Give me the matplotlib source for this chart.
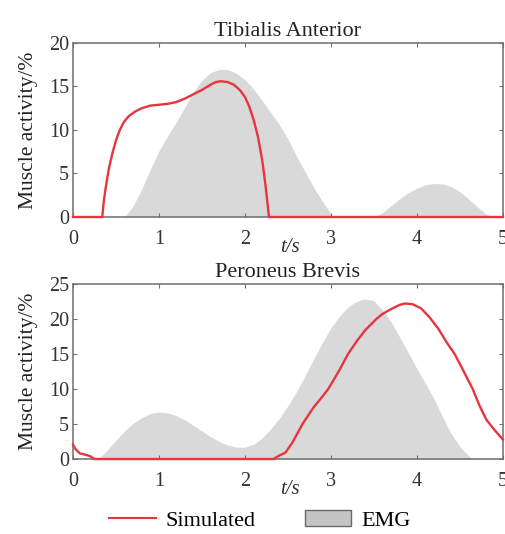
import matplotlib
matplotlib.use("Agg")
import matplotlib.pyplot as plt
from matplotlib.lines import Line2D
from matplotlib.patches import Patch

plt.rcParams["font.family"] = ["Liberation Serif", "DejaVu Serif"]

# Tibialis Anterior
ta_emg_t = [0, 0.6, 0.7, 0.8, 0.9, 1.0, 1.1, 1.2, 1.3, 1.4, 1.5, 1.6, 1.7, 1.8, 1.9,
            2.0, 2.1, 2.2, 2.3, 2.4, 2.5, 2.6, 2.7, 2.8, 2.9, 3.0, 3.03,
            3.5, 3.6, 3.7, 3.8, 3.9, 4.0, 4.1, 4.2, 4.3, 4.4, 4.5, 4.6, 4.7, 4.8, 4.88, 5.0]
ta_emg = [0, 0, 1.3, 3.2, 5.5, 7.6, 9.3, 10.9, 12.6, 14.4, 15.7, 16.6, 16.95, 16.95, 16.5,
          15.8, 14.7, 13.4, 12.0, 10.6, 9.0, 7.0, 5.2, 3.4, 1.8, 0.4, 0,
          0, 0.5, 1.3, 2.1, 2.8, 3.3, 3.7, 3.85, 3.8, 3.5, 2.9, 2.1, 1.2, 0.4, 0, 0]
ta_sim_t = [0, 0.34, 0.36, 0.39, 0.42, 0.46, 0.5, 0.54, 0.59, 0.65, 0.72, 0.8, 0.9, 1.0,
            1.1, 1.2, 1.3, 1.4, 1.5, 1.6, 1.66, 1.72, 1.8, 1.87, 1.94, 2.0, 2.05, 2.1,
            2.15, 2.2, 2.24, 2.28, 5.0]
ta_sim = [0, 0, 2.0, 4.0, 5.7, 7.4, 8.8, 9.9, 10.9, 11.6, 12.1, 12.5, 12.8, 12.9,
          13.0, 13.2, 13.6, 14.1, 14.6, 15.2, 15.5, 15.6, 15.5, 15.2, 14.6, 13.8, 12.7, 11.2,
          9.3, 6.6, 3.6, 0, 0]

# Peroneus Brevis
pb_emg_t = [0, 0.29, 0.4, 0.5, 0.6, 0.7, 0.8, 0.9, 1.0, 1.1, 1.2, 1.3, 1.4, 1.5, 1.6, 1.7,
            1.8, 1.9, 2.0, 2.1, 2.2, 2.3, 2.4, 2.5, 2.6, 2.7, 2.8, 2.9, 3.0, 3.1, 3.2, 3.3,
            3.4, 3.5, 3.6, 3.7, 3.8, 3.9, 4.0, 4.1, 4.2, 4.3, 4.4, 4.5, 4.6, 4.65, 5.0]
pb_emg = [0, 0, 1.3, 2.7, 4.0, 5.1, 5.9, 6.5, 6.7, 6.6, 6.2, 5.6, 4.8, 4.0, 3.2, 2.5,
          2.0, 1.7, 1.7, 2.1, 3.0, 4.3, 5.8, 7.6, 9.6, 11.9, 14.3, 16.6, 18.7, 20.4, 21.7, 22.5,
          22.85, 22.6, 21.3, 19.6, 17.4, 15.2, 12.9, 10.8, 8.6, 6.0, 3.6, 1.8, 0.5, 0, 0]
pb_sim_t = [0, 0.03, 0.08, 0.15, 0.2, 0.25, 2.33, 2.4, 2.47, 2.55, 2.67, 2.8, 2.9, 2.97,
            3.1, 3.2, 3.3, 3.4, 3.53, 3.6, 3.7, 3.8, 3.86, 3.95, 4.05, 4.15, 4.25, 4.35,
            4.44, 4.55, 4.65, 4.73, 4.81, 4.9, 5.0]
pb_sim = [2.05, 1.4, 0.8, 0.6, 0.4, 0, 0, 0.5, 0.9, 2.3, 5.0, 7.4, 8.9, 10.0,
          12.7, 15.0, 16.8, 18.4, 20.0, 20.7, 21.4, 22.0, 22.2, 22.1, 21.5, 20.2, 18.6, 16.6,
          15.0, 12.4, 10.0, 7.6, 5.6, 4.2, 2.8]

red = "#e8343c"
gray = "#d9d9d9"
spine = "#6e6e6e"
txt = "#333333"

fig = plt.figure(figsize=(5.05, 5.34), dpi=100)
ax1 = fig.add_axes([0.1446, 0.5936, 0.851, 0.326])
ax2 = fig.add_axes([0.1446, 0.1404, 0.851, 0.328])

panels = [
    (ax1, "Tibialis Anterior", ta_emg_t, ta_emg, ta_sim_t, ta_sim, 20, [0, 5, 10, 15, 20]),
    (ax2, "Peroneus Brevis", pb_emg_t, pb_emg, pb_sim_t, pb_sim, 25, [0, 5, 10, 15, 20, 25]),
]

for ax, title, et, ev, st, sv, ymax, yt in panels:
    ax.fill_between(et, 0, ev, color=gray, linewidth=0, zorder=1)
    ax.plot(st, sv, color=red, linewidth=1.7, zorder=3, clip_on=False)
    ax.set_xlim(0, 5)
    ax.set_ylim(0, ymax)
    ax.set_xticks([0, 1, 2, 3, 4, 5])
    ax.set_yticks(yt)
    ax.tick_params(direction="in", top=True, right=True, length=3, width=0.8,
                   color=spine, labelsize=14.5, labelcolor=txt)
    ax.tick_params(axis="x", pad=9)
    ax.tick_params(axis="y", pad=3)
    for s in ax.spines.values():
        s.set_color(spine)
        s.set_linewidth(1.1)
    ax.set_title(title, fontsize=16, color="#222222", pad=5)
    ax.set_ylabel("Muscle activity/%", fontsize=15.5, color="#222222", labelpad=8)
    ax.text(0.505, -0.176, "t/s", transform=ax.transAxes, fontsize=15, style="italic",
            color=txt, ha="center", va="center")

handles = [Line2D([0], [0], color=red, linewidth=1.5),
           Patch(facecolor="#c4c4c4", edgecolor="#6a6a6a", linewidth=1.0)]
fig.legend(handles, ["Simulated", "EMG"], loc="center", bbox_to_anchor=(0.515, 0.025),
           ncol=2, frameon=False, fontsize=16, handlelength=2.1, handleheight=0.7,
           columnspacing=2.2, handletextpad=0.45, borderaxespad=0, borderpad=0)

fig.savefig("out.png", dpi=100)
